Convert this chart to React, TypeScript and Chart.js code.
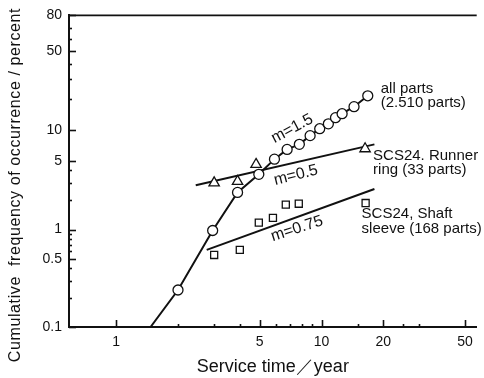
import { useEffect, useRef } from "react";
import { Chart, registerables, Scale } from "chart.js";

Chart.register(...registerables);

const FONT = '"Liberation Sans", Arial, Helvetica, sans-serif';
const INK = "#111111";

// ---- data (service time in years, cumulative frequency in percent) ----
const allPartsYears = [2.0, 2.95, 3.9, 4.95, 5.9, 6.8, 7.8, 8.8, 9.8, 10.8, 11.7, 12.6, 14.4, 16.8];
const allPartsPct = [0.24, 0.98, 2.4, 3.66, 5.2, 6.5, 7.3, 8.9, 10.4, 11.6, 13.3, 14.5, 16.9, 21.3];
const allPartsLineYears = [1.47, ...allPartsYears];
const allPartsLinePct = [0.1, ...allPartsPct];

const runnerYears = [3.0, 3.9, 4.8, 16.3];
const runnerPct = [3.0, 3.1, 4.6, 6.6];
const runnerFitYears = [2.44, 18.1];
const runnerFitPct = [2.84, 7.3];

const shaftYears = [3.0, 4.0, 4.95, 5.8, 6.7, 7.75, 16.4];
const shaftPct = [0.55, 0.62, 1.18, 1.32, 1.8, 1.84, 1.87];
const shaftFitYears = [2.76, 18.1];
const shaftFitPct = [0.62, 2.6];

// ---- axes ----
const xMajorTicks = [1, 5, 10, 20, 50];
const xMinorTicks = [2, 3, 4, 6, 7, 8, 9, 15, 25, 30];
const yMajorTicks = [0.1, 0.5, 1, 5, 10, 50, 80];
const yMinorTicks = [0.2, 0.3, 0.4, 0.6, 0.7, 0.8, 0.9, 2, 3, 4, 20, 30, 40, 60, 70];

const xTitle = "Service time／year";
const yTitle = "Cumulative  frequency of occurrence / percent";

// ---- labels ----
const slopeLabels = ["m=1.5", "m=0.5", "m=0.75"];
const slopeLabelYears = [7.2, 7.5, 7.6];
const slopeLabelPct = [10.4, 3.57, 1.02];
const slopeLabelAngles = [-28, -14, -18];

const seriesLabelLines = [
  ["all parts", "(2.510 parts)"],
  ["SCS24. Runner", "ring (33 parts)"],
  ["SCS24, Shaft", "sleeve (168 parts)"],
];

const weibull = (pct: number) => Math.log(-Math.log(1 - pct / 100));

class WeibullScale extends Scale {
  static id = "weibull";
  static defaults = {};
  _wMin = 0;
  _wMax = 1;
  determineDataLimits() {
    const o: any = this.options;
    this.min = o.min;
    this.max = o.max;
  }
  buildTicks() {
    return yMajorTicks.map((v) => ({ value: v }));
  }
  getLabelForValue(v: number) {
    return String(v);
  }
  configure() {
    super.configure();
    this._wMin = weibull(this.min);
    this._wMax = weibull(this.max);
  }
  getPixelForValue(v: number) {
    return this.getPixelForDecimal((weibull(v) - this._wMin) / (this._wMax - this._wMin));
  }
  getValueForPixel(p: number) {
    const t = this._wMin + this.getDecimalForPixel(p) * (this._wMax - this._wMin);
    return 100 * (1 - Math.exp(-Math.exp(t)));
  }
}
Chart.register(WeibullScale as any);

const toPts = (xs: number[], ys: number[]) => xs.map((x, i) => ({ x, y: ys[i] }));

const axisDecor = {
  id: "axisDecor",
  afterDraw(chart: any) {
    const { ctx, chartArea, scales } = chart;
    const { left, right, top, bottom } = chartArea;
    const x = scales.x;
    const y = scales.y;
    ctx.save();
    ctx.strokeStyle = INK;
    ctx.lineWidth = 1.6;
    const seg = (x1: number, y1: number, x2: number, y2: number) => {
      ctx.beginPath();
      ctx.moveTo(x1, y1);
      ctx.lineTo(x2, y2);
      ctx.stroke();
    };
    seg(left, top, right, top);
    yMajorTicks.forEach((v) => {
      const p = Math.round(y.getPixelForValue(v)) + 0.5;
      seg(left, p, left + 7, p);
    });
    yMinorTicks.forEach((v) => {
      const p = Math.round(y.getPixelForValue(v)) + 0.5;
      seg(left, p, left + 3, p);
    });
    xMajorTicks.forEach((v) => {
      const p = Math.round(x.getPixelForValue(v)) + 0.5;
      seg(p, bottom, p, bottom - 7);
    });
    xMinorTicks.forEach((v) => {
      const p = Math.round(x.getPixelForValue(v)) + 0.5;
      seg(p, bottom, p, bottom - 3);
    });
    // y axis title
    ctx.fillStyle = INK;
    ctx.font = `16px ${FONT}`;
    (ctx as any).letterSpacing = "0.6px";
    ctx.textAlign = "center";
    ctx.textBaseline = "middle";
    ctx.translate(16, 185);
    ctx.rotate(-Math.PI / 2);
    ctx.fillText(yTitle, 0, 0);
    ctx.restore();
  },
};

const textPlugin = {
  id: "texts",
  afterDatasetsDraw(chart: any) {
    const { ctx, scales } = chart;
    const x = scales.x;
    const y = scales.y;
    ctx.save();
    ctx.fillStyle = INK;
    ctx.textBaseline = "middle";
    // slope labels
    ctx.font = `16px ${FONT}`;
    ctx.textAlign = "center";
    slopeLabels.forEach((t, i) => {
      ctx.save();
      ctx.translate(x.getPixelForValue(slopeLabelYears[i]), y.getPixelForValue(slopeLabelPct[i]));
      ctx.rotate((slopeLabelAngles[i] * Math.PI) / 180);
      ctx.fillText(t, 0, 0);
      ctx.restore();
    });
    // series labels anchored at the last marker of each series
    ctx.font = `15px ${FONT}`;
    ctx.textAlign = "left";
    const anchors = [
      { px: x.getPixelForValue(allPartsYears[allPartsYears.length - 1]), py: y.getPixelForValue(allPartsPct[allPartsPct.length - 1]), dx: 13, dy: -7 },
      { px: x.getPixelForValue(runnerYears[runnerYears.length - 1]), py: y.getPixelForValue(runnerPct[runnerPct.length - 1]), dx: 8, dy: 7 },
      { px: x.getPixelForValue(shaftYears[shaftYears.length - 1]), py: y.getPixelForValue(shaftPct[shaftPct.length - 1]), dx: -4, dy: 11 },
    ];
    seriesLabelLines.forEach((lines, i) => {
      const a = anchors[i];
      lines.forEach((line, j) => {
        ctx.fillText(line, a.px + a.dx, a.py + a.dy + j * 14.5);
      });
    });
    ctx.restore();
  },
};

export default function App() {
  const ref = useRef<HTMLCanvasElement>(null);
  useEffect(() => {
    document.body.style.margin = "0";
    const marker = {
      pointBackgroundColor: "#ffffff",
      pointBorderColor: INK,
      pointBorderWidth: 1.3,
      showLine: false,
      order: 0,
    };
    const line = {
      showLine: true,
      pointRadius: 0,
      borderColor: INK,
      borderWidth: 2,
      order: 1,
    };
    const chart = new Chart(ref.current as HTMLCanvasElement, {
      type: "scatter",
      data: {
        datasets: [
          { label: "all parts (2.510 parts)", data: toPts(allPartsYears, allPartsPct), pointStyle: "circle", pointRadius: 5, ...marker },
          { label: "SCS24. Runner ring (33 parts)", data: toPts(runnerYears, runnerPct), pointStyle: "triangle", pointRadius: 6, ...marker },
          { label: "SCS24, Shaft sleeve (168 parts)", data: toPts(shaftYears, shaftPct), pointStyle: "rect", pointRadius: 5, ...marker },
          { label: "all parts trend", data: toPts(allPartsLineYears, allPartsLinePct), ...line },
          { label: "m=0.5", data: toPts(runnerFitYears, runnerFitPct), ...line },
          { label: "m=0.75", data: toPts(shaftFitYears, shaftFitPct), ...line },
        ] as any,
      },
      options: {
        responsive: false,
        animation: false,
        devicePixelRatio: 1,
        layout: { padding: { top: 13, right: 0, left: 0, bottom: 0 } },
        plugins: { legend: { display: false }, tooltip: { enabled: false } },
        scales: {
          x: {
            type: "logarithmic",
            position: "bottom",
            min: 0.589,
            max: 57,
            afterFit: (s: any) => {
              s.height = 51;
            },
            afterBuildTicks: (s: any) => {
              s.ticks = xMajorTicks.map((v) => ({ value: v }));
            },
            ticks: {
              autoSkip: false,
              maxRotation: 0,
              padding: 7,
              color: INK,
              font: { family: FONT, size: 14 },
              callback: (v: any) => String(v),
            },
            grid: { display: false, drawTicks: false },
            border: { display: true, color: INK, width: 2 },
            title: {
              display: true,
              text: xTitle,
              color: INK,
              font: { family: FONT, size: 18 },
              padding: { top: 0, bottom: 0 },
            },
          },
          y: {
            type: "weibull",
            position: "left",
            min: 0.1,
            max: 80,
            afterFit: (s: any) => {
              s.width = 69;
            },
            ticks: {
              autoSkip: false,
              padding: 7,
              color: INK,
              font: { family: FONT, size: 14 },
              callback: (v: any) => String(v),
            },
            grid: { display: false, drawTicks: false },
            border: { display: true, color: INK, width: 2 },
          },
        } as any,
      },
      plugins: [axisDecor, textPlugin],
    });
    return () => chart.destroy();
  }, []);
  return <canvas ref={ref} width={484} height={378} style={{ display: "block" }} />;
}
